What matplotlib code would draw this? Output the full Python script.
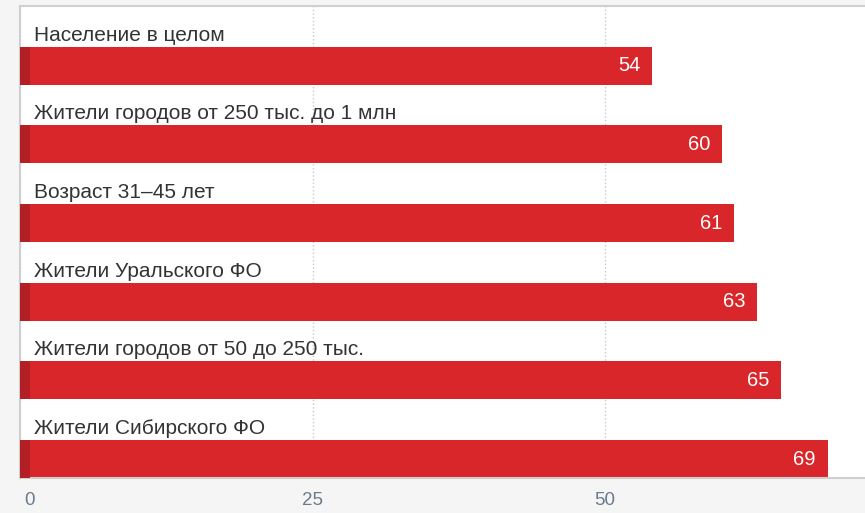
import numpy as np
import matplotlib.pyplot as plt
from matplotlib.transforms import ScaledTranslation

# data
categories = ['Население в целом',
              'Жители городов от 250 тыс. до 1 млн',
              'Возраст 31–45 лет',
              'Жители Уральского ФО',
              'Жители городов от 50 до 250 тыс.',
              'Жители Сибирского ФО']
values = [54, 60, 61, 63, 65, 69]
xticks = [0, 25, 50]

red = '#d8262b'
dark_red = '#b21f24'
frame = '#cfcfcf'

plt.rcParams['font.family'] = ['Liberation Sans', 'DejaVu Sans']

fig = plt.figure(figsize=(8.65, 5.13), dpi=100)
fig.patch.set_facecolor('#f5f5f5')
ax = fig.add_axes([20 / 865, 35 / 513, 1 - 20 / 865, 472 / 513])
ax.set_facecolor('white')

pos = np.arange(len(values))
bar_h = 38 / 78.8
ax.barh(pos + 1 - bar_h / 2, values, height=bar_h, color=red, zorder=2)
ax.barh(pos + 1 - bar_h / 2, [10 / 11.68] * len(values), height=bar_h,
        color=dark_red, zorder=3)

for i, (c, v) in enumerate(zip(categories, values)):
    ax.text(1.2, i + 0.37, c, fontsize=15, color='#333333', va='center', ha='left')
    ax.text(v - 1.0, i + 1 - bar_h / 2, str(v), fontsize=14.5, color='white',
            va='center', ha='right', zorder=4)

ax.set_xlim(0, 72.2)
ax.set_ylim(len(values), 0)
ax.set_yticks([])
ax.set_xticks(xticks)
ax.set_xticklabels([str(t) for t in xticks], fontsize=13.5, color='#6b7b8c')
ax.tick_params(axis='x', length=0, pad=10)
lbl = ax.get_xticklabels()[0]
lbl.set_transform(lbl.get_transform() + ScaledTranslation(7 / 72, 0, fig.dpi_scale_trans))
ax.grid(axis='x', linestyle=':', color='#c8c8c8', linewidth=1, zorder=1)

for s in ['top', 'left', 'bottom']:
    ax.spines[s].set_color(frame)
    ax.spines[s].set_linewidth(1.5)
ax.spines['right'].set_visible(False)

plt.savefig('out.png', dpi=100, facecolor=fig.get_facecolor())
